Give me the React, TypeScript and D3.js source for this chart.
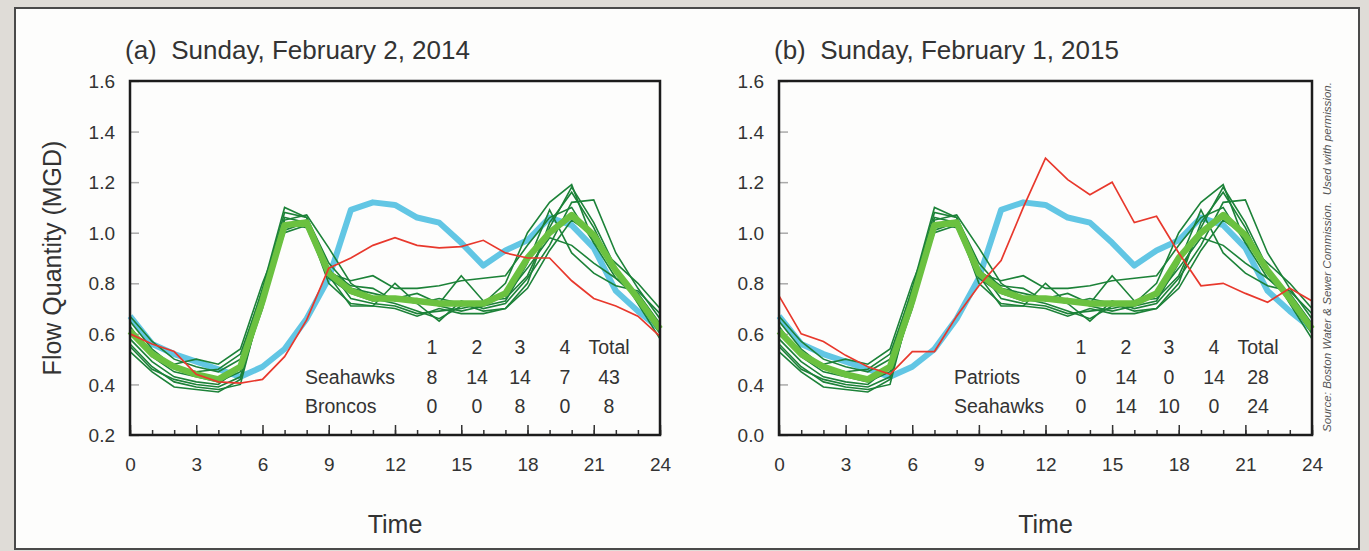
import { useEffect, useRef } from "react";
import * as d3 from "d3";

// hourly flow (MGD), hour 0..24
const hours = d3.range(0, 25);

// weekday average (light blue)
const weekdayAvg = [0.67, 0.56, 0.52, 0.49, 0.46, 0.43, 0.47, 0.54, 0.66, 0.82, 1.09, 1.12, 1.11, 1.06, 1.04, 0.96, 0.87, 0.93, 0.97, 1.06, 1.03, 0.94, 0.77, 0.69, 0.62];

// average of ordinary Sundays (thick light green)
const sundayAvg = [0.61, 0.52, 0.47, 0.44, 0.42, 0.47, 0.73, 1.03, 1.04, 0.84, 0.77, 0.74, 0.74, 0.73, 0.72, 0.72, 0.72, 0.76, 0.9, 1.0, 1.07, 0.99, 0.85, 0.74, 0.62];

// individual ordinary Sundays (thin dark green)
const sunday1 = [0.67, 0.57, 0.5, 0.47, 0.45, 0.5, 0.78, 1.1, 1.06, 0.86, 0.74, 0.72, 0.71, 0.68, 0.69, 0.7, 0.72, 0.8, 1.0, 1.12, 1.19, 0.96, 0.82, 0.74, 0.62];
const sunday2 = [0.53, 0.45, 0.39, 0.38, 0.37, 0.42, 0.72, 1.05, 1.07, 0.94, 0.8, 0.74, 0.72, 0.69, 0.66, 0.71, 0.73, 0.74, 0.83, 1.02, 1.18, 1.04, 0.86, 0.72, 0.58];
const sunday3 = [0.6, 0.52, 0.48, 0.5, 0.48, 0.54, 0.8, 1.02, 1.05, 0.83, 0.71, 0.71, 0.8, 0.72, 0.65, 0.73, 0.7, 0.72, 0.82, 0.95, 1.12, 1.13, 0.92, 0.78, 0.66];
const sunday4 = [0.56, 0.47, 0.41, 0.39, 0.38, 0.4, 0.74, 1.0, 1.03, 0.84, 0.81, 0.83, 0.78, 0.78, 0.79, 0.81, 0.82, 0.83, 0.95, 1.06, 1.1, 0.96, 0.88, 0.8, 0.7];
const sunday5 = [0.63, 0.51, 0.45, 0.43, 0.41, 0.45, 0.7, 1.04, 1.02, 0.82, 0.76, 0.73, 0.74, 0.76, 0.72, 0.83, 0.73, 0.75, 0.86, 0.98, 0.95, 0.88, 0.82, 0.76, 0.64];
const sunday6 = [0.58, 0.49, 0.43, 0.41, 0.4, 0.47, 0.76, 1.06, 1.04, 0.8, 0.72, 0.71, 0.7, 0.67, 0.7, 0.68, 0.68, 0.7, 0.78, 0.93, 1.05, 0.99, 0.86, 0.73, 0.6];
const sunday7 = [0.65, 0.54, 0.47, 0.45, 0.46, 0.52, 0.77, 1.08, 1.06, 0.88, 0.78, 0.76, 0.74, 0.72, 0.74, 0.72, 0.69, 0.7, 0.8, 1.04, 1.16, 1.02, 0.84, 0.75, 0.61];
const sunday8 = [0.55, 0.46, 0.42, 0.4, 0.39, 0.43, 0.73, 1.01, 1.04, 0.85, 0.79, 0.78, 0.73, 0.74, 0.71, 0.69, 0.71, 0.73, 0.88, 1.09, 0.92, 0.84, 0.79, 0.77, 0.68];
const sundays = [sunday1, sunday2, sunday3, sunday4, sunday5, sunday6, sunday7, sunday8];

// Super Bowl Sundays (red)
const game2014 = [0.6, 0.56, 0.53, 0.44, 0.41, 0.405, 0.42, 0.51, 0.655, 0.86, 0.9, 0.95, 0.98, 0.95, 0.94, 0.945, 0.97, 0.92, 0.9, 0.9, 0.81, 0.74, 0.71, 0.67, 0.59];
const game2015 = [0.75, 0.6, 0.57, 0.515, 0.47, 0.44, 0.53, 0.53, 0.67, 0.79, 0.89, 1.1, 1.295, 1.21, 1.15, 1.2, 1.04, 1.065, 0.92, 0.79, 0.8, 0.76, 0.725, 0.78, 0.73];

const yTicks = [0.2, 0.4, 0.6, 0.8, 1.0, 1.2, 1.4, 1.6];
const yLabelsA = ["0.2", "0.4", "0.6", "0.8", "1.0", "1.2", "1.4", "1.6"];
const yLabelsB = ["0.0", "0.4", "0.6", "0.8", "1.0", "1.2", "1.4", "1.6"];
const xTicks = [0, 3, 6, 9, 12, 15, 18, 21, 24];

const quarters = ["1", "2", "3", "4", "Total"];
const seahawks2014 = [8, 14, 14, 7, 43];
const broncos2014 = [0, 0, 8, 0, 8];
const patriots2015 = [0, 14, 0, 14, 28];
const seahawks2015 = [0, 14, 10, 0, 24];

const FONT = "'Liberation Sans', Arial, Helvetica, sans-serif";
const W = 1369;
const H = 551;

const panels = [
  {
    left: 130, right: 660,
    title: "(a)  Sunday, February 2, 2014",
    game: game2014, yLabels: yLabelsA,
    rows: [["Seahawks", seahawks2014], ["Broncos", broncos2014]] as [string, number[]][],
    yTitle: true,
  },
  {
    left: 779, right: 1312,
    title: "(b)  Sunday, February 1, 2015",
    game: game2015, yLabels: yLabelsB,
    rows: [["Patriots", patriots2015], ["Seahawks", seahawks2015]] as [string, number[]][],
    yTitle: false,
  },
];

const App = () => {
  const svgRef = useRef<SVGSVGElement>(null);

  useEffect(() => {
    const svg = d3.select(svgRef.current);
    svg.selectAll("*").remove();

    // background and frame
    svg.append("rect").attr("width", W).attr("height", H).attr("fill", "#dfdcd7");
    svg.append("rect")
      .attr("x", 15).attr("y", 8).attr("width", 1344).attr("height", 541)
      .attr("fill", "#fdfdfc").attr("stroke", "#4a4a4a").attr("stroke-width", 2);

    const top = 81;
    const bottom = 435;

    panels.forEach(p => {
      const x = d3.scaleLinear().domain([0, 24]).range([p.left, p.right]);
      const y = d3.scaleLinear().domain([0.2, 1.6]).range([bottom, top]);
      const g = svg.append("g").attr("font-family", FONT);

      // title (keeps the double space)
      g.append("text")
        .attr("x", p.left - 5).attr("y", 59)
        .attr("font-size", 26).attr("fill", "#333")
        .style("white-space", "pre")
        .text(p.title);

      // y axis (inner ticks, custom labels)
      const yAxis = d3.axisLeft(y)
        .tickValues(yTicks)
        .tickSize(-9)
        .tickPadding(15)
        .tickFormat((_, i) => p.yLabels[i]);
      const ya = g.append("g").attr("transform", `translate(${p.left},0)`).call(yAxis);
      ya.select(".domain").remove();
      ya.selectAll(".tick line").attr("stroke", "#aaa").attr("stroke-width", 1.5);
      ya.selectAll(".tick text")
        .attr("font-size", 19).attr("font-family", FONT).attr("fill", "#333")
        .attr("dy", "0.35em");

      // x axis: minor hourly ticks and major 3-hour ticks
      const minor = d3.axisBottom(x).tickValues(hours).tickSize(-5).tickFormat(() => "");
      const xm = g.append("g").attr("transform", `translate(0,${bottom})`).call(minor);
      xm.select(".domain").remove();
      xm.selectAll(".tick line").attr("stroke", "#333").attr("stroke-width", 1.5);

      const major = d3.axisBottom(x).tickValues(xTicks).tickSize(-10).tickPadding(23).tickFormat(d3.format("d"));
      const xa = g.append("g").attr("transform", `translate(0,${bottom})`).call(major);
      xa.select(".domain").remove();
      xa.selectAll(".tick line").attr("stroke", "#333").attr("stroke-width", 1.5);
      xa.selectAll(".tick text")
        .attr("font-size", 19).attr("font-family", FONT).attr("fill", "#333");

      // lines
      const line = d3.line<number>()
        .x((_, i) => x(hours[i]))
        .y(v => y(v));

      g.append("path").datum(weekdayAvg)
        .attr("d", line).attr("fill", "none")
        .attr("stroke", "#62c6e4").attr("stroke-width", 6).attr("stroke-linejoin", "round");

      g.selectAll(".sunday").data(sundays).join("path")
        .attr("class", "sunday")
        .attr("d", line).attr("fill", "none")
        .attr("stroke", "#1c8238").attr("stroke-width", 1.6);

      g.append("path").datum(sundayAvg)
        .attr("d", line).attr("fill", "none")
        .attr("stroke", "#6bc140").attr("stroke-width", 6.5).attr("stroke-linejoin", "round");

      g.append("path").datum(p.game)
        .attr("d", line).attr("fill", "none")
        .attr("stroke", "#e8382c").attr("stroke-width", 1.7);

      // plot frame
      g.append("rect")
        .attr("x", p.left).attr("y", top)
        .attr("width", p.right - p.left).attr("height", bottom - top)
        .attr("fill", "none").attr("stroke", "#1c1c1c").attr("stroke-width", 2.5);

      // score table
      const colX = [302, 347, 390, 435, 479].map(d => p.left + d);
      const labelX = p.left + 175;
      const rowY = [354, 384, 413];
      const tbl = g.append("g").attr("font-size", 19.5).attr("fill", "#333");
      tbl.selectAll(".hdr").data(quarters).join("text")
        .attr("class", "hdr")
        .attr("x", (_, i) => colX[i]).attr("y", rowY[0])
        .attr("text-anchor", "middle").text(d => d);
      p.rows.forEach(([team, vals], r) => {
        tbl.append("text").attr("x", labelX).attr("y", rowY[r + 1]).text(team);
        tbl.selectAll(`.v${r}`).data(vals).join("text")
          .attr("class", `v${r}`)
          .attr("x", (_, i) => colX[i]).attr("y", rowY[r + 1])
          .attr("text-anchor", "middle").text(d => d);
      });

      // x title
      g.append("text")
        .attr("x", (p.left + p.right) / 2).attr("y", 533)
        .attr("text-anchor", "middle").attr("font-size", 25).attr("fill", "#333")
        .text("Time");

      if (p.yTitle) {
        g.append("text")
          .attr("transform", `translate(61,${(top + bottom) / 2}) rotate(-90)`)
          .attr("text-anchor", "middle").attr("font-size", 25).attr("fill", "#333")
          .text("Flow Quantity (MGD)");
      }
    });

    // source note
    svg.append("text")
      .attr("transform", `translate(1331,257) rotate(-90)`)
      .attr("text-anchor", "middle")
      .attr("font-family", FONT).attr("font-size", 11).attr("font-style", "italic")
      .attr("fill", "#555")
      .attr("textLength", 350).attr("lengthAdjust", "spacingAndGlyphs")
      .style("white-space", "pre")
      .text("Source: Boston Water & Sewer Commission.  Used with permission.");
  }, []);

  return (
    <svg
      ref={svgRef}
      width={W}
      height={H}
      style={{ position: "absolute", left: 0, top: 0, display: "block" }}
    />
  );
};

export default App;
